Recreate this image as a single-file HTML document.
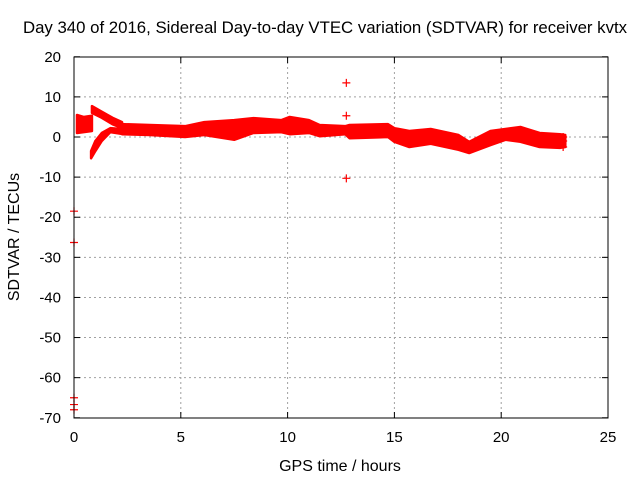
<!DOCTYPE html>
<html><head><meta charset="utf-8"><style>
body{margin:0;background:#fff}
svg{display:block;font-family:"Liberation Sans",sans-serif;font-size:14px}
</style></head><body>
<svg id="c" width="640" height="480">
<rect width="640" height="480" fill="#fff"/>
<g id="grid"></g>
<g id="axes"></g>
<g id="data"></g>
<rect x="74" y="57" width="534" height="361" fill="none" stroke="#000" stroke-width="1"/>
<text x="325" y="33" text-anchor="middle" style="font-size:16.8px">Day 340 of 2016, Sidereal Day-to-day VTEC variation (SDTVAR) for receiver kvtx</text>
<text x="340" y="471" text-anchor="middle" style="font-size:16px">GPS time / hours</text>
<text transform="translate(19,237) rotate(-90)" text-anchor="middle" style="font-size:16px">SDTVAR / TECUs</text>
</svg>
<script>
const xTicks=[0,5,10,15,20,25];
const yTicks=[20,10,0,-10,-20,-30,-40,-50,-60,-70];
// main band: time, upper, lower
const mainT=[2.25,3.55,5.2,6.1,7.5,8.4,9.7,10.1,11,11.5,12.7,12.9,14.7,15,15.7,16.7,18,18.5,19.5,20.2,20.9,21.8,22.75,23.0];
const mainHi=[3.2,3,2.7,3.7,4.2,4.7,4.2,5,4.2,3,2.7,3,3.2,2.2,1.5,2,0.5,-1.2,1.5,2,2.5,1,0.7,0.5];
const mainLo=[0.7,0.5,0,0.5,-0.7,1,1.2,0.7,1,0.2,0.7,-0.3,0,-1.2,-2.5,-1.7,-3.2,-4,-2,-0.7,-1.2,-2.5,-2.7,-2.5];
const startT=[0.14,0.45,0.84];
const startHi=[5.5,5,5.3];
const startLo=[1,1.2,1.5];
const upArmT=[0.84,1.3,1.8,2.25];
const upArmHi=[7.7,6.3,4.8,3.7];
const upArmLo=[6,4.8,3.2,2.2];
const lowArmT=[0.8,1.0,1.3,1.7,2.2];
const lowArmHi=[-3.5,-1,1,2.2,2];
const lowArmLo=[-5.3,-3.5,-1,1.2,0.8];
const outT=[12.75,12.75,12.75,0,0,0,0,0,22.9,22.9,22.9];
const outV=[13.5,5.3,-10.3,-18.5,-26.3,-65,-66.7,-68,0,-1,-2.5];
const X=v=>74+v*(534/25), Y=v=>137-v*(361/90);
const NS="http://www.w3.org/2000/svg";
function mk(t,a,p){const e=document.createElementNS(NS,t);for(const k in a)e.setAttribute(k,a[k]);p.appendChild(e);return e;}
const g=document.getElementById('grid'),ax=document.getElementById('axes'),d=document.getElementById('data');
xTicks.forEach(v=>{const x=X(v);
 if(v>0&&v<25){const l=mk('line',{x1:x,x2:x,y1:57,y2:418,stroke:'#a0a0a0','stroke-dasharray':'2,3'},g);}
 mk('line',{x1:x,x2:x,y1:418,y2:412,stroke:'#000'},ax);mk('line',{x1:x,x2:x,y1:57,y2:63,stroke:'#000'},ax);
 const t=mk('text',{x:x,y:442,'text-anchor':'middle',style:'font-size:15px'},ax);t.textContent=v;
 });
yTicks.forEach(v=>{const y=Y(v);
 if(v<20&&v>-70){const l=mk('line',{x1:74,x2:608,y1:y,y2:y,stroke:'#a0a0a0','stroke-dasharray':'2,3'},g);}
 mk('line',{x1:74,x2:80,y1:y,y2:y,stroke:'#000'},ax);mk('line',{x1:608,x2:602,y1:y,y2:y,stroke:'#000'},ax);
 const t=mk('text',{x:61,y:y+5,'text-anchor':'end',style:'font-size:15px'},ax);t.textContent=v;
 });
function cross(x,y){mk('path',{d:`M${x-4},${y}h8M${x},${y-4}v8`,stroke:'#f00','stroke-width':1.2},d);}
function band(T,H,L,name){
 let p=T.map((t,i)=>X(t)+','+Y(H[i])).join(' ')+' '+T.map((t,i)=>X(t)+','+Y(L[i])).reverse().join(' ');
 const e=mk('polygon',{points:p,fill:'#f00',stroke:'#f00','stroke-width':2.5,'stroke-linejoin':'round'},d);
 }
band(startT,startHi,startLo,'band-start');
band(upArmT,upArmHi,upArmLo,'band-upper-arm');
band(lowArmT,lowArmHi,lowArmLo,'band-lower-arm');
band(mainT,mainHi,mainLo,'band-main');
outT.forEach((t,i)=>cross(X(t),Y(outV[i])));
</script>
</body></html>
